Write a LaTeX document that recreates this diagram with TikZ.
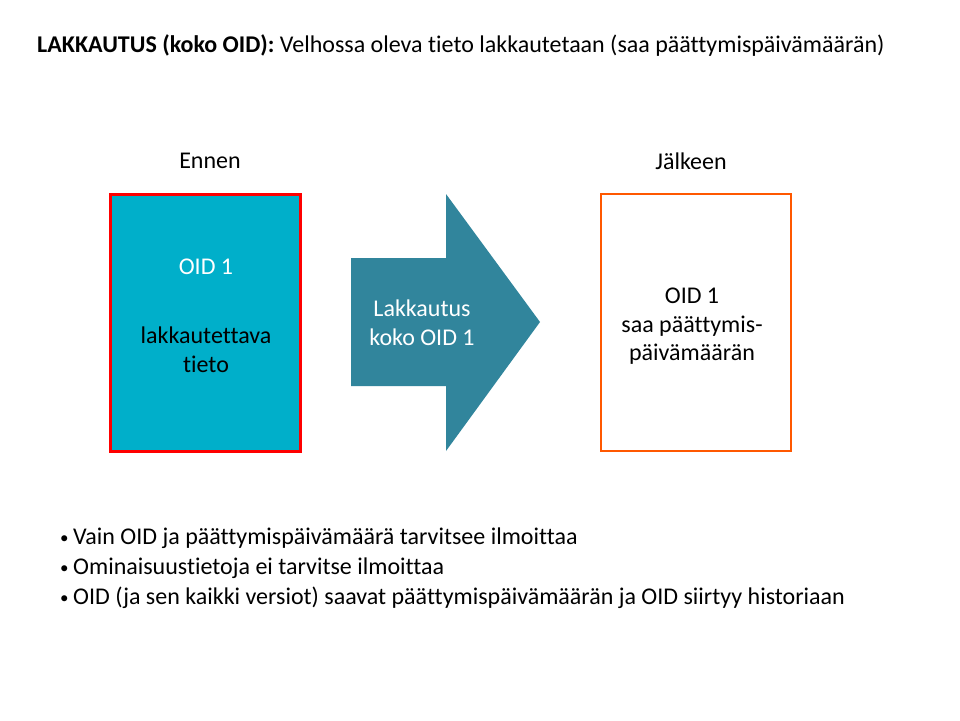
\documentclass[tikz,border=0pt]{standalone}
\usepackage{fontspec}
\setmainfont[Ligatures={NoCommon,NoContextual}]{Carlito}
\definecolor{cyanfill}{RGB}{0,175,202}
\definecolor{arrowc}{RGB}{49,133,156}
\definecolor{redb}{RGB}{255,0,0}
\definecolor{orangeb}{RGB}{255,88,0}
\tikzset{
  txt/.style={font=\fontsize{24}{28}\selectfont, inner sep=0pt, align=center},
  leftt/.style={font=\fontsize{24}{28}\selectfont, inner sep=0pt, anchor=west},
  dot/.style={font=\fontsize{17}{20}\selectfont, inner sep=0pt, anchor=west},
}
\begin{document}
\begin{tikzpicture}[x=1pt,y=-1pt]
\useasboundingbox (0,0) rectangle (960,720);
\fill[white] (0,0) rectangle (960,720);
% title
\node[leftt] (title) at (37,46) {\textbf{LAKKAUTUS (koko OID):} Velhossa oleva tieto lakkautetaan (saa päättymispäivämäärän)};
% headings
\node[txt] (ennen) at (210,161) {Ennen};
\node[txt] (jalkeen) at (691,161) {Jälkeen};
% left box
\draw[draw=redb, line width=3pt, fill=cyanfill] (110,194) rectangle (300,451);
\node[txt, text=white] (oid1) at (206,267) {OID 1};
\node[txt] (lakk) at (206,350) {lakkautettava\\[1pt]tieto};
% arrow
\fill[arrowc] (351,258) -- (446,258) -- (446,194) -- (540,322) -- (446,451) -- (446,386) -- (351,386) -- cycle;
\node[txt, text=white] (arrtxt) at (422,323) {Lakkautus\\[1pt]koko OID 1};
% right box
\draw[draw=orangeb, line width=2.2pt, fill=white] (601,194) rectangle (791,451);
\node[txt] (after) at (692,326) {OID 1\\[1pt]saa päättymis-\\[0pt]päivämäärän};
% bullets
\node[dot] (d1) at (60,540) {•};
\node[leftt] (b1) at (73,538) {Vain OID ja päättymispäivämäärä tarvitsee ilmoittaa};
\node[dot] (d2) at (60,570) {•};
\node[leftt] (b2) at (73,568) {Ominaisuustietoja ei tarvitse ilmoittaa};
\node[dot] (d3) at (60,600) {•};
\node[leftt] (b3) at (73,598) {OID (ja sen kaikki versiot) saavat päättymispäivämäärän ja OID siirtyy historiaan};
\end{tikzpicture}
\end{document}
